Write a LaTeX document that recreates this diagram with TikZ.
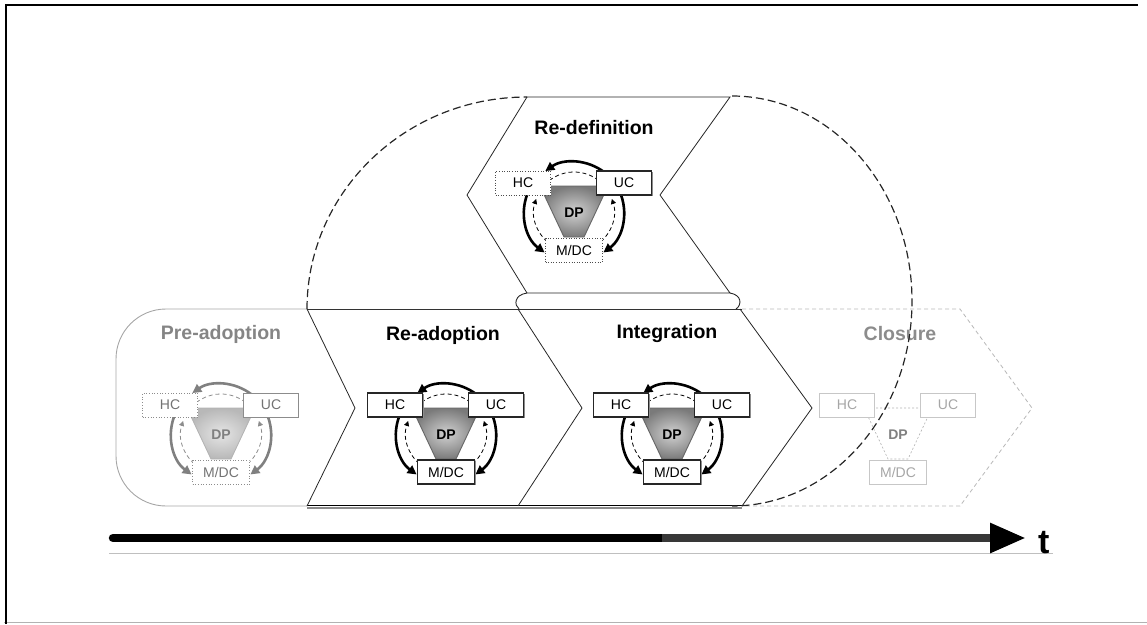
\documentclass[tikz,border=0pt]{standalone}
\usepackage{fontspec}
\setmainfont{Liberation Sans}
\usetikzlibrary{arrows.meta,shadows}

% One adoption cycle: HC, UC and M/DC around the DP funnel.
% #1 name prefix, #2/#3 centre of the circle of arrows.
\newcommand{\cycfig}[3]{%
  \begin{scope}[shift={(#2,#3)}]
    \coordinate (#1c) at (0,0);
    \path[cyc dp] (-34,-26) -- (34,-26) -- (10,25) -- (-10,25) -- cycle;
    \node[cyc dptext] (#1dp) at (0,1) {DP};
    \path[cyc solid] ([shift={(-52:50)}]#1c) arc[start angle=-52, end angle=-125, radius=50];
    \path[cyc solid] ([shift={(205:50)}]#1c) arc[start angle=205, end angle=126, radius=50];
    \path[cyc solid] ([shift={(-25:50)}]#1c) arc[start angle=-25, end angle=54, radius=50];
    \path[cyc dash] ([shift={(212:40)}]#1c) arc[start angle=212, end angle=328, radius=40];
    \path[cyc dasharrow] ([shift={(122:40)}]#1c) arc[start angle=122, end angle=199, radius=40];
    \path[cyc dasharrow] ([shift={(58:40)}]#1c) arc[start angle=58, end angle=-19, radius=40];
    \node[box, cyc hc] (#1hc) at (-51,-29) {HC};
    \node[box, cyc uc] (#1uc) at (50,-29) {UC};
    \node[box, cyc mdc, minimum width=57pt] (#1mdc) at (0,38) {M/DC};
  \end{scope}}

\begin{document}
\begin{tikzpicture}[x=1pt, y=-1pt,
  box/.style={rectangle, minimum width=55pt, minimum height=24pt, inner sep=0pt,
    fill=white, font=\fontsize{14}{16}\selectfont},
  hardbox/.style={draw=black!85, line width=1.1pt, text=black,
    drop shadow={shadow xshift=1.2pt, shadow yshift=-1.2pt, fill=black!45, opacity=1}},
  dotbox/.style={draw=black!70, line width=0.6pt, dotted, text=black},
  title/.style={font=\bfseries\fontsize{19.5}{22}\selectfont},
  % active stage (default)
  cyc hc/.style={hardbox}, cyc uc/.style={hardbox}, cyc mdc/.style={hardbox},
  cyc solid/.style={draw=black, line width=2.6pt, -{Triangle[length=9pt,width=9pt]}},
  cyc dash/.style={draw=black, line width=0.8pt, dash pattern=on 4pt off 3pt},
  cyc dasharrow/.style={cyc dash, -{Triangle[length=5pt,width=5pt]}},
  cyc dp/.style={draw=black!60, line width=0.9pt, inner color=black!18, outer color=black!52},
  cyc dptext/.style={font=\bfseries\fontsize{14}{16}\selectfont, text=black},
  % faded first stage
  faded/.style={
    cyc hc/.style={draw=black!45, line width=0.7pt, dotted, text=black!55},
    cyc uc/.style={draw=black!45, line width=0.9pt, text=black!55},
    cyc mdc/.style={draw=black!45, line width=0.7pt, dotted, text=black!55},
    cyc solid/.style={draw=black!50, line width=2.6pt, -{Triangle[length=9pt,width=9pt]}},
    cyc dash/.style={draw=black!45, line width=0.8pt, dash pattern=on 4pt off 3pt},
    cyc dp/.style={draw=black!30, line width=0.8pt, inner color=black!10, outer color=black!28},
    cyc dptext/.style={font=\bfseries\fontsize{14}{16}\selectfont, text=black!50}},
  % ghost last stage
  ghost/.style={
    cyc hc/.style={draw=black!22, line width=0.9pt, text=black!35},
    cyc uc/.style={draw=black!22, line width=0.9pt, text=black!35},
    cyc mdc/.style={draw=black!22, line width=0.9pt, text=black!35},
    cyc solid/.style={}, cyc dash/.style={}, cyc dasharrow/.style={},
    cyc dp/.style={draw=black!30, line width=0.6pt, dash pattern=on 2pt off 2pt},
    cyc dptext/.style={font=\bfseries\fontsize{14}{16}\selectfont, text=black!50}},
  % re-definition stage
  redef/.style={cyc hc/.style={dotbox}, cyc mdc/.style={dotbox}},
  bigdash/.style={draw=black!85, line width=1.2pt, dash pattern=on 8pt off 4pt}
]
\useasboundingbox (0,0) rectangle (1147,624);

% frame
\draw[black!30, line width=0.8pt] (4,622.5) -- (1147,622.5);
\draw[line width=2.2pt] (6,624) -- (6,5) -- (1138,5);

% Pre-adoption
\draw[black!35, line width=0.9pt, rounded corners=50] (307,309) -- (116,309) -- (116,506) -- (307,506);
% Closure
\draw[black!28, line width=0.8pt, dash pattern=on 4pt off 3pt] (742,309) -- (960,309) -- (1032,408) -- (960,506) -- (742,506);
% Re-adoption and Integration
\draw[black!80, line width=0.9pt] (307,309) -- (742,309);
\draw[black!45, line width=2pt] (307,508) -- (742,508);
\draw[black, line width=1.4pt] (307,505.5) -- (742,505.5);
\draw[black!85, line width=0.8pt] (307,309) -- (355,408) -- (307,506);
\draw[black!85, line width=0.8pt] (518,309) -- (582,408) -- (518,506);
\draw[black!85, line width=0.8pt] (740,309) -- (812,408) -- (742,506);
% Re-definition
\draw[black!85, line width=0.8pt] (527,97) -- (730,97) -- (660,195) -- (730,293) -- (527,293) -- (467,195) -- cycle;
\draw[black!85, line width=0.9pt] (527,293) .. controls (514,295) and (514,305) .. (519,309);
\draw[black!85, line width=0.9pt] (730,293) .. controls (742,295) and (742,305) .. (736,309);

% titles
\node[title, text=black!48] (tpre) at (221,334) {Pre-adoption};
\node[title] (tre) at (443,335) {Re-adoption};
\node[title] (tint) at (667,333) {Integration};
\node[title, text=black!45] (tclo) at (900,334) {Closure};
\node[title] (tdef) at (594,128) {Re-definition};

% cycles
\begin{scope}[faded]\cycfig{pre}{221}{434}\end{scope}
\cycfig{rea}{446}{434}
\cycfig{int}{672}{434}
\begin{scope}[redef]\cycfig{def}{574}{212}\end{scope}
\begin{scope}[ghost]\cycfig{clo}{898}{434}\end{scope}

% dashed loop around re-definition
\draw[bigdash] (307,309) arc[start angle=180, end angle=270, x radius=220, y radius=212];
\draw[bigdash] (732,96) arc[start angle=-90, end angle=90, x radius=180, y radius=205];

% time axis
\draw[black!25, line width=0.7pt] (109,553.5) -- (1053,553.5);
\coordinate (t0) at (113,538);
\coordinate (tm) at (662,538);
\coordinate (t1) at (1026,538);
\draw[black, line width=8.5pt, line cap=round] (t0) -- (tm);
\draw[black!78, line width=8.5pt, -{Triangle[length=36pt,width=28pt,color=black]}] (tm) -- (t1);
\begin{scope}
  \clip (1030,500) rectangle (1053,570);
  \node[font=\bfseries\fontsize{34}{36}\selectfont, anchor=base west, inner sep=0pt] (tlab) at (1038,553) {t};
\end{scope}
\end{tikzpicture}
\end{document}
